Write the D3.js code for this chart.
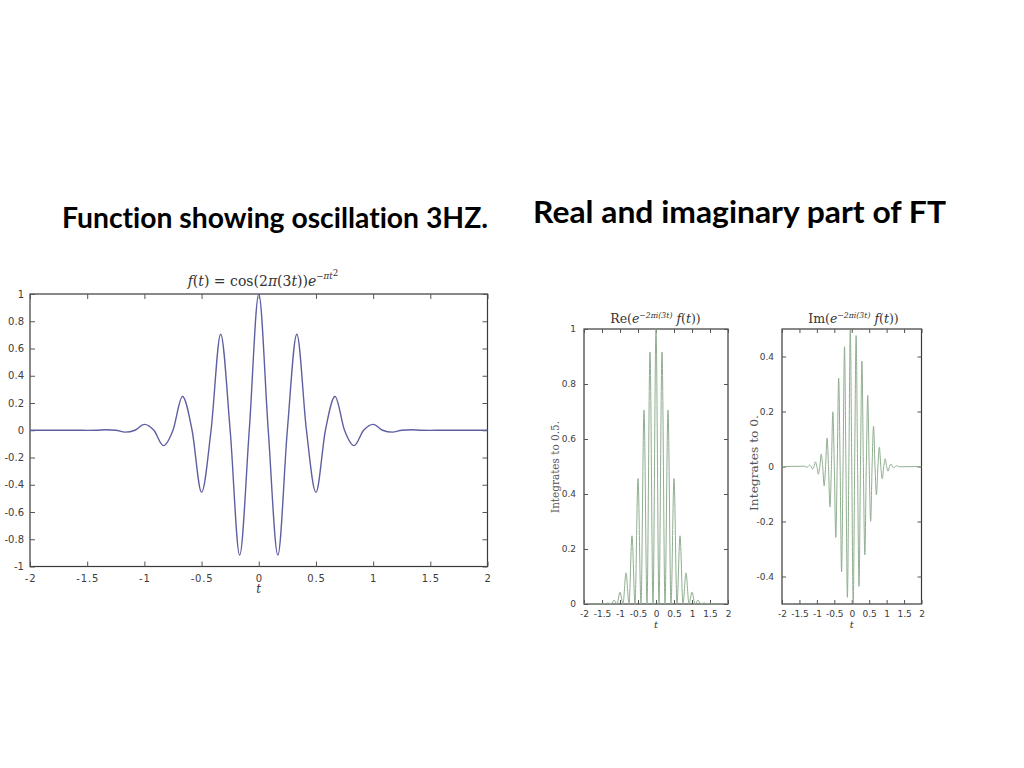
<!DOCTYPE html>
<html>
<head>
<meta charset="utf-8">
<script src="https://cdn.jsdelivr.net/npm/d3@7/dist/d3.min.js"></script>
<style>
  html, body { margin: 0; padding: 0; background: #fff; }
  svg { display: block; }
  .title { font-variant-ligatures: none; font-feature-settings: "liga" 0, "clig" 0; }
</style>
</head>
<body>
<svg id="chart" width="1024" height="768"></svg>
<script>
// ---------------- DATA ----------------
const tGrid = [-2, -1.917, -1.833, -1.75, -1.667, -1.583, -1.5, -1.417, -1.333, -1.25, -1.167, -1.083,
  -1, -0.917, -0.833, -0.75, -0.667, -0.583, -0.5, -0.417, -0.333, -0.25, -0.167, -0.083,
  0, 0.083, 0.167, 0.25, 0.333, 0.417, 0.5, 0.583, 0.667, 0.75, 0.833, 0.917,
  1, 1.083, 1.167, 1.25, 1.333, 1.417, 1.5, 1.583, 1.667, 1.75, 1.833, 1.917, 2];

const fValues = [0, 0, 0, 0, 0, 0, -0.001, 0, 0.004, 0, -0.014, 0,
  0.043, 0, -0.113, 0, 0.248, 0, -0.456, 0, 0.705, 0, -0.916, 0,
  1, 0, -0.916, 0, 0.705, 0, -0.456, 0, 0.248, 0, -0.113, 0,
  0.043, 0, -0.014, 0, 0.004, 0, -0.001, 0, 0, 0, 0, 0, 0];

const reValues = [0, 0, 0, 0, 0, 0, 0.001, 0, 0.004, 0, 0.014, 0,
  0.043, 0, 0.113, 0, 0.248, 0, 0.456, 0, 0.705, 0, 0.916, 0,
  1, 0, 0.916, 0, 0.705, 0, 0.456, 0, 0.248, 0, 0.113, 0,
  0.043, 0, 0.014, 0, 0.004, 0, 0.001, 0, 0, 0, 0, 0, 0];

const imT = [-2, -1.375, -1.333, -1.292, -1.25, -1.208, -1.167, -1.125, -1.083, -1.042,
  -1, -0.958, -0.917, -0.875, -0.833, -0.792, -0.75, -0.708, -0.667, -0.625, -0.583, -0.542,
  -0.5, -0.458, -0.417, -0.375, -0.333, -0.292, -0.25, -0.208, -0.167, -0.125, -0.083, -0.042,
  0, 0.042, 0.083, 0.125, 0.167, 0.208, 0.25, 0.292, 0.333, 0.375, 0.417, 0.458,
  0.5, 0.542, 0.583, 0.625, 0.667, 0.708, 0.75, 0.792, 0.833, 0.875, 0.917, 0.958,
  1, 1.042, 1.083, 1.125, 1.167, 1.208, 1.25, 1.292, 1.333, 1.375, 2];

const imValues = [0, 0.001, 0, -0.003, 0, 0.005, 0, -0.009, 0, 0.017,
  0, -0.028, 0, 0.045, 0, -0.070, 0, 0.103, 0, -0.147, 0, 0.199,
  0, -0.258, 0, 0.321, 0, -0.383, 0, 0.436, 0, -0.476, 0, 0.497,
  0, -0.497, 0, 0.476, 0, -0.436, 0, 0.383, 0, -0.321, 0, 0.258,
  0, -0.199, 0, 0.147, 0, -0.103, 0, 0.070, 0, -0.045, 0, 0.028,
  0, -0.017, 0, 0.009, 0, -0.005, 0, 0.003, 0, -0.001, 0];

const xTicks = [-2, -1.5, -1, -0.5, 0, 0.5, 1, 1.5, 2];
const fYTicks = [-1, -0.8, -0.6, -0.4, -0.2, 0, 0.2, 0.4, 0.6, 0.8, 1];
const reYTicks = [0, 0.2, 0.4, 0.6, 0.8, 1];
const imYTicks = [-0.4, -0.2, 0, 0.2, 0.4];

const titleLeft = "Function showing oscillation 3HZ.";
const titleRight = "Real and imaginary part of FT";
const reLabel = "Integrates to 0.5.";
const imLabel = "Integrates to 0.";

// ---------------- DRAW ----------------
const svg = d3.select("#chart");

svg.append("text").attr("class", "title").attr("x", 62).attr("y", 228)
  .attr("font-family", "Lato, 'Open Sans', sans-serif").attr("font-weight", 700)
  .attr("font-size", 28).attr("fill", "#000")
  .attr("textLength", 426).attr("lengthAdjust", "spacingAndGlyphs")
  .text(titleLeft);

svg.append("text").attr("class", "title").attr("x", 533).attr("y", 223)
  .attr("font-family", "Lato, 'Open Sans', sans-serif").attr("font-weight", 700)
  .attr("font-size", 29.5).attr("fill", "#000")
  .attr("textLength", 413).attr("lengthAdjust", "spacingAndGlyphs")
  .text(titleRight);

let clipId = 0;
function panel(o) {
  const g = svg.append("g");
  const x = d3.scaleLinear().domain([-2, 2]).range([o.x0, o.x1]);
  const y = d3.scaleLinear().domain(o.yDomain).range([o.y1, o.y0]);
  const fmt = d => String(d);

  g.append("rect").attr("x", o.x0).attr("y", o.y0)
    .attr("width", o.x1 - o.x0).attr("height", o.y1 - o.y0)
    .attr("fill", "none").attr("stroke", "#3a3a3a").attr("stroke-width", 1.2);

  const ts = o.tick;
  const bottom = g.append("g").attr("transform", `translate(0,${o.y1})`)
    .call(d3.axisBottom(x).tickValues(xTicks).tickSize(-ts).tickPadding(o.xPad).tickFormat(fmt));
  const top = g.append("g").attr("transform", `translate(0,${o.y0})`)
    .call(d3.axisTop(x).tickValues(xTicks).tickSize(-ts).tickFormat(""));
  const left = g.append("g").attr("transform", `translate(${o.x0},0)`)
    .call(d3.axisLeft(y).tickValues(o.yTicks).tickSize(-ts).tickPadding(o.yPad).tickFormat(fmt));
  const right = g.append("g").attr("transform", `translate(${o.x1},0)`)
    .call(d3.axisRight(y).tickValues(o.yTicks).tickSize(-ts).tickFormat(""));
  [bottom, top, left, right].forEach(a => {
    a.select(".domain").remove();
    a.selectAll(".tick line").attr("stroke", "#555");
    a.selectAll("text").attr("font-size", o.fs).attr("font-family", "'DejaVu Sans', sans-serif")
      .attr("fill", "#3c3c3c");
  });
  bottom.selectAll("text").attr("letter-spacing", o.ls);

  const id = "clip" + (clipId++);
  svg.append("clipPath").attr("id", id).append("rect")
    .attr("x", o.x0).attr("y", o.y0).attr("width", o.x1 - o.x0).attr("height", o.y1 - o.y0);

  const line = d3.line().x((d, i) => x(o.t[i])).y(d => y(d)).curve(d3.curveMonotoneX);
  g.append("path").datum(o.v).attr("d", line)
    .attr("fill", "none").attr("stroke", o.color).attr("stroke-width", o.sw)
    .attr("clip-path", `url(#${id})`);

  g.append("text").attr("x", (o.x0 + o.x1) / 2).attr("y", o.tY)
    .attr("text-anchor", "middle").attr("font-family", "'DejaVu Serif', serif")
    .attr("font-style", "italic").attr("font-size", o.tFs).attr("fill", "#333").text("t");
  return { g, x, y };
}

panel({ x0: 30, x1: 487.5, y0: 294, y1: 566.5, yDomain: [-1, 1], yTicks: fYTicks,
  t: tGrid, v: fValues, color: "#5e5fa0", sw: 1.4, tick: 5, fs: 10, ls: 0.8, xPad: 8, yPad: 6,
  tY: 593, tFs: 12 });

panel({ x0: 584, x1: 728, y0: 329, y1: 604, yDomain: [0, 1], yTicks: reYTicks,
  t: tGrid, v: reValues, color: "#8fae8f", sw: 1, tick: 4, fs: 9, ls: 0, xPad: 7, yPad: 8,
  tY: 628, tFs: 10 });

panel({ x0: 782, x1: 921.5, y0: 329, y1: 604, yDomain: [-0.5, 0.5], yTicks: imYTicks,
  t: imT, v: imValues, color: "#8fae8f", sw: 1, tick: 4, fs: 9, ls: 0, xPad: 7, yPad: 8,
  tY: 628, tFs: 10 });

function mathTitle(cx, by, fs, parts) {
  const t = svg.append("text").attr("x", cx).attr("y", by).attr("text-anchor", "middle")
    .attr("font-family", "'DejaVu Serif', 'Liberation Serif', serif").attr("font-size", fs).attr("fill", "#333");
  parts.forEach(p => {
    const s = t.append("tspan").text(p.s);
    if (p.i) s.attr("font-style", "italic");
    if (p.sup) s.attr("font-size", fs * 0.62).attr("dy", p.dy);
    else if (p.dy) s.attr("dy", p.dy);
  });
}

mathTitle(263, 286, 14, [
  { s: "f", i: 1 }, { s: "(" }, { s: "t", i: 1 }, { s: ") = cos(2" }, { s: "π", i: 1 }, { s: "(3" },
  { s: "t", i: 1 }, { s: "))" }, { s: "e", i: 1 }, { s: "−π", i: 1, sup: 1, dy: -7 }, { s: "t", i: 1, sup: 1, dy: 0 },
  { s: "2", sup: 1, dy: -3 }
]);

mathTitle(655.5, 323, 12.5, [
  { s: "Re(" }, { s: "e", i: 1 }, { s: "−2πi(3t)", i: 1, sup: 1, dy: -5 }, { s: " f", i: 1, dy: 5 },
  { s: "(" }, { s: "t", i: 1 }, { s: "))" }
]);

mathTitle(853.5, 323, 12.5, [
  { s: "Im(" }, { s: "e", i: 1 }, { s: "−2πi(3t)", i: 1, sup: 1, dy: -5 }, { s: " f", i: 1, dy: 5 },
  { s: "(" }, { s: "t", i: 1 }, { s: "))" }
]);

svg.append("text").attr("transform", "translate(559,467) rotate(-90)")
  .attr("text-anchor", "middle").attr("font-family", "'DejaVu Serif', serif")
  .attr("font-size", 10.5).attr("fill", "#555")
  .attr("textLength", 92).attr("lengthAdjust", "spacingAndGlyphs").text(reLabel);

svg.append("text").attr("transform", "translate(758,463) rotate(-90)")
  .attr("text-anchor", "middle").attr("font-family", "'DejaVu Serif', serif")
  .attr("font-size", 10.5).attr("fill", "#555")
  .attr("textLength", 96).attr("lengthAdjust", "spacingAndGlyphs").text(imLabel);
</script>
</body>
</html>
